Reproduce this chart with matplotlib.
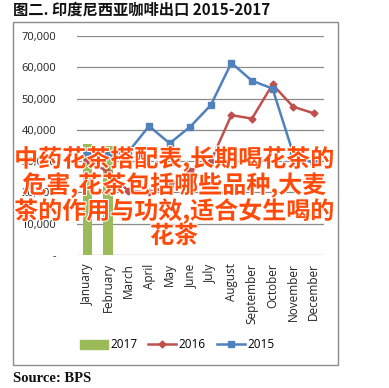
import matplotlib
matplotlib.use("Agg")
import matplotlib.pyplot as plt
import matplotlib.patheffects as pe
from matplotlib.patches import Rectangle
from matplotlib.lines import Line2D
import numpy as np

plt.rcParams['font.family'] = ['Open Sans', 'DejaVu Sans']

# data (tonnes)
months = ['January', 'February', 'March', 'April', 'May', 'June', 'July',
          'August', 'September', 'October', 'November', 'December']
exp_2017 = [35500, 35000]
exp_2016 = [30500, 26500, 20500, 20000, 22000, 27000, 30000,
            44700, 43600, 54500, 47400, 45300]
exp_2015 = [33000, 32000, 33000, 41200, 35700, 41000, 47900,
            61400, 55700, 53200, 32500, 29300]
yticks = [0, 10000, 20000, 30000, 40000, 50000, 60000, 70000]
ytick_labels = ['-', '10,000', '20,000', '30,000', '40,000', '50,000', '60,000', '70,000']

W, H = 389, 388
fig = plt.figure(figsize=(W / 100, H / 100), dpi=100)

# outer chart frame
fig.patches.append(Rectangle((13 / W, 1 - 365 / H), (338 - 13) / W, (365 - 22) / H,
                             transform=fig.transFigure, fill=False,
                             edgecolor='#8c8c8c', linewidth=1))

ax = fig.add_axes([77 / W, 1 - 255 / H, (324 - 77) / W, (255 - 36) / H])
x = np.arange(len(months))

for yv in yticks:
    ax.axhline(yv, color='#8a8a8a', linewidth=0.9, zorder=0)

ax.bar(x[:len(exp_2017)], exp_2017, width=0.45, color='#9BBB59', zorder=2)
ax.plot(x, exp_2016, color='#C0504D', linewidth=1.8, marker='D', markersize=3.5, zorder=3)
ax.plot(x, exp_2015, color='#4F81BD', linewidth=1.8, marker='s', markersize=5, zorder=4)

ax.set_xlim(-0.5, 11.5)
ax.set_ylim(0, 70000)
ax.set_yticks(yticks)
ax.set_yticklabels(ytick_labels, fontsize=8, color='#222222')
ax.set_xticks(x)
ax.set_xticklabels(months, rotation=90, fontsize=8.5, color='#222222')
ax.tick_params(length=0, pad=15, axis='y')
ax.tick_params(length=0, pad=6, axis='x')
for s in ax.spines.values():
    s.set_visible(False)

handles = [Rectangle((0, 0), 1, 1, color='#9BBB59'),
           Line2D([], [], color='#C0504D', linewidth=1.8, marker='D', markersize=3.5),
           Line2D([], [], color='#4F81BD', linewidth=1.8, marker='s', markersize=5)]
fig.legend(handles, ['2017', '2016', '2015'], loc='center', ncol=3,
           bbox_to_anchor=(177 / W, 1 - 345 / H), frameon=False, fontsize=8.5,
           handlelength=2.4, handleheight=0.8, columnspacing=0.9, handletextpad=0.2)

fig.text(13 / W, 1 - 10 / H, '图二. 印度尼西亚咖啡出口 2015-2017',
         family=['Noto Sans CJK SC', 'DejaVu Sans'], fontweight='bold',
         fontsize=11, va='center', ha='left', color='#111111')
fig.text(13 / W, 1 - 378 / H, 'Source: BPS', family='Liberation Serif',
         fontweight='bold', fontsize=10.5, va='center', ha='left', color='#111111')

# overlay caption
overlay = '中药花茶搭配表,长期喝花茶的\n危害,花茶包括哪些品种,大麦\n茶的作用与功效,适合女生喝的\n花茶'
fig.text(174 / W, 1 - 197 / H, overlay, family=['Noto Sans CJK SC', 'DejaVu Sans'],
         fontweight='bold', fontsize=17.3, color='#FF4A0A', ha='center', va='center',
         multialignment='center', linespacing=1.0,
         path_effects=[pe.withStroke(linewidth=1.5, foreground='white')])

fig.savefig('out.png', dpi=100)
